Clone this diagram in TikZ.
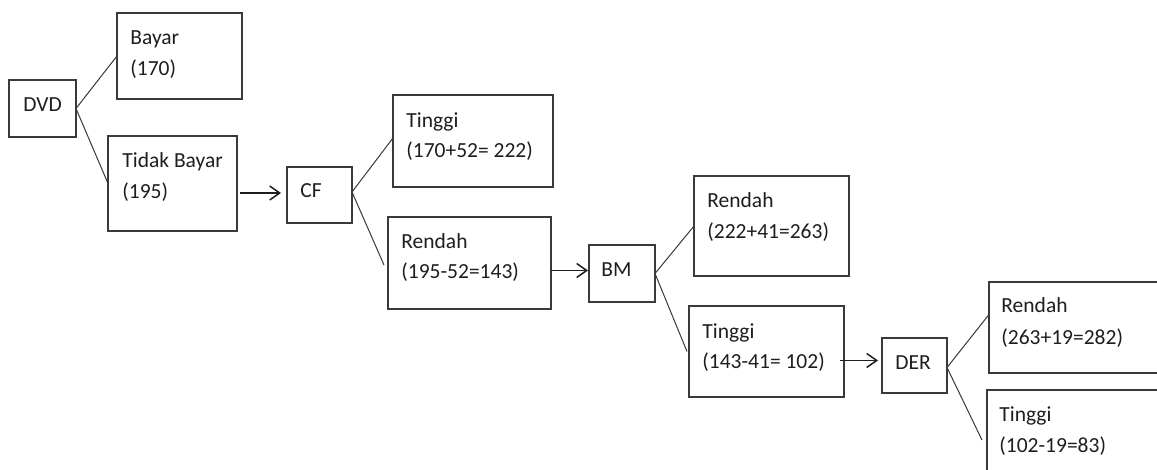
\documentclass[tikz,border=0pt]{standalone}
\usepackage{fontspec}
\setmainfont{Carlito}
\usetikzlibrary{arrows.meta,calc,fit}

\definecolor{ink}{HTML}{1E1E1E}
\definecolor{rule}{HTML}{3A3A3A}

\tikzset{
  box/.style={draw=rule, line width=0.8pt, inner sep=0pt, outer sep=0pt, rectangle},
  txt/.style={anchor=base west, inner sep=0pt, text=ink, font=\fontsize{10.75}{13}\selectfont},
  branch/.style={draw=rule, line width=0.5pt},
  arr/.style={draw=ink, line width=0.75pt, -{Straight Barb[length=5pt,width=7pt,line width=0.75pt]}},
}

\begin{document}
\begin{tikzpicture}[x=0.5pt,y=-0.5pt]
\useasboundingbox (0,0) rectangle (1157,470);
\fill[white] (0,0) rectangle (1157,470);
\clip (0,0) rectangle (1157,470);

% boxes
\node[box, fit={(9,80) (76,137)}]      (dvd) {};
\node[box, fit={(117,13) (242,99)}]    (bayar) {};
\node[box, fit={(108,136) (237,231)}]  (tidak) {};
\node[box, fit={(287,167) (352,223)}]  (cf) {};
\node[box, fit={(393,95) (553,187)}]   (cfhi) {};
\node[box, fit={(388,217) (551,309)}]  (cflo) {};
\node[box, fit={(589,245) (655,302)}]  (bm) {};
\node[box, fit={(694,176) (849,276)}]  (bmlo) {};
\node[box, fit={(689,306) (844,397)}]  (bmhi) {};
\node[box, fit={(882,338) (947,393)}]  (der) {};
\node[box, fit={(989,282) (1175,373)}] (derlo) {};
\node[box, fit={(987,390) (1175,490)}] (derhi) {};

% labels
\node[txt] at ($(dvd.north west)+(14,32)$) {DVD};
\node[txt] at ($(bayar.north west)+(13,32)$) {Bayar};
\node[txt] at ($(bayar.north west)+(13,63)$) {(170)};
\node[txt] at ($(tidak.north west)+(14,32)$) {Tidak Bayar};
\node[txt] at ($(tidak.north west)+(14,63)$) {(195)};
\node[txt] at ($(cf.north west)+(13,31)$) {CF};
\node[txt] at ($(cfhi.north west)+(13,33)$) {Tinggi};
\node[txt] at ($(cfhi.north west)+(13,63)$) {(170+52= 222)};
\node[txt] at ($(cflo.north west)+(13,32)$) {Rendah};
\node[txt] at ($(cflo.north west)+(13,62)$) {(195-52=143)};
\node[txt] at ($(bm.north west)+(12,32)$) {BM};
\node[txt] at ($(bmlo.north west)+(13,32)$) {Rendah};
\node[txt] at ($(bmlo.north west)+(13,63)$) {(222+41=263)};
\node[txt] at ($(bmhi.north west)+(13,32)$) {Tinggi};
\node[txt] at ($(bmhi.north west)+(13,62)$) {(143-41= 102)};
\node[txt] at ($(der.north west)+(13,32)$) {DER};
\node[txt] at ($(derlo.north west)+(12,31)$) {Rendah};
\node[txt] at ($(derlo.north west)+(12,62)$) {(263+19=282)};
\node[txt] at ($(derhi.north west)+(12,32)$) {Tinggi};
\node[txt] at ($(derhi.north west)+(12,62)$) {(102-19=83)};

% branches
\draw[branch] (dvd.east) -- (bayar.west);
\draw[branch] (dvd.east) -- (tidak.west);
\draw[branch] ($(cf.east)+(0,-3)$) -- ($(cfhi.west)+(0,-3)$);
\draw[branch] ($(cf.east)+(0,-3)$) -- ($(cflo.west)+(-4,2)$);
\draw[branch] (bm.east) -- (bmlo.west);
\draw[branch] (bm.east) -- ($(bmhi.west)+(-2,0)$);
\draw[branch] ($(der.east)+(0,2)$) -- ($(derlo.west)+(0,-13)$);
\draw[branch] ($(der.east)+(0,2)$) -- ($(derhi.west)+(-5,0)$);

% arrows between stages
\draw[arr] ($(tidak.east |- cf.west)+(3,-2)$) -- ($(cf.west)+(-6,-2)$);
\draw[arr] ($(cflo.east |- bm.west)+(0,-3)$) -- ($(bm.west)+(-1,-3)$);
\draw[arr] ($(bmhi.east |- der.west)+(-4,-5)$) -- ($(der.west)+(-4,-5)$);
\end{tikzpicture}
\end{document}
